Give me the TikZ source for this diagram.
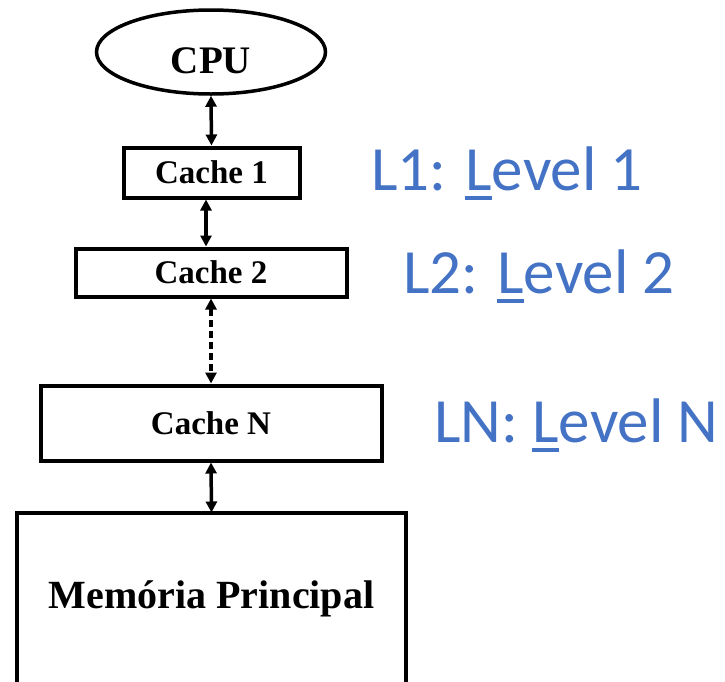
\documentclass[tikz,border=0pt]{standalone}
\usepackage{fontspec}
\setmainfont{Liberation Serif}
\newfontfamily\lblfont{Carlito}
\usetikzlibrary{arrows.meta,shapes.geometric}
\definecolor{officeblue}{HTML}{4472C4}
\newcommand{\myuL}{\setbox0\hbox{L}\rlap{\rule[-0.165em]{\wd0}{0.07em}}L}
\begin{document}
\begin{tikzpicture}[x=1pt,y=-1pt,
  box/.style={draw, line width=4pt, rectangle, inner sep=0pt, font=\fontsize{33}{33}\selectfont\bfseries},
  link/.style={line width=3.5pt, {Triangle[length=11pt,width=11pt]}-{Triangle[length=11pt,width=11pt]}},
  lvl/.style={anchor=base west, inner sep=0pt, text=officeblue, font=\fontsize{63}{63}\selectfont\lblfont}]
\useasboundingbox (0,0) rectangle (725,681);
\clip (0,0) rectangle (725,681);
\node[draw, ellipse, line width=3.5pt, minimum width=229pt, minimum height=84pt, inner sep=0pt,
      text height=42pt, text depth=0pt, font=\fontsize{39}{39}\selectfont\bfseries] (cpu) at (211,52) {CPU};
\node[box, minimum width=176pt, minimum height=50pt] (c1) at (211.5,172.5) {Cache 1};
\node[box, minimum width=271pt, minimum height=48pt] (c2) at (211,272.5) {Cache 2};
\node[box, minimum width=341pt, minimum height=75pt] (cn) at (211,423) {Cache N};
\node[rectangle, inner sep=0pt, minimum width=388pt, minimum height=172pt, anchor=north,
      font=\fontsize{40}{40}\selectfont\bfseries] (mem) at (211.5,512.5) {Memória Principal};
\draw[line width=4pt] ([yshift=-20pt]mem.south west) -- (mem.north west) -- (mem.north east) -- ([yshift=-20pt]mem.south east);
\draw[link] (cpu.south) -- (c1.north);
\draw[link] ([xshift=-5.5pt]c1.south) -- ([xshift=-5.5pt]c1.south |- c2.north);
\draw[link, dash pattern=on 7pt off 4pt] (c2.south) -- (cn.north);
\draw[link] (cn.south) -- (mem.north);
\node[lvl] (l1) at (371,190) {L1: \myuL evel 1};
\node[lvl] (l2) at (403,293) {L2: \myuL evel 2};
\node[lvl] (ln) at (434,442) {LN: \myuL evel N};
\end{tikzpicture}
\end{document}
